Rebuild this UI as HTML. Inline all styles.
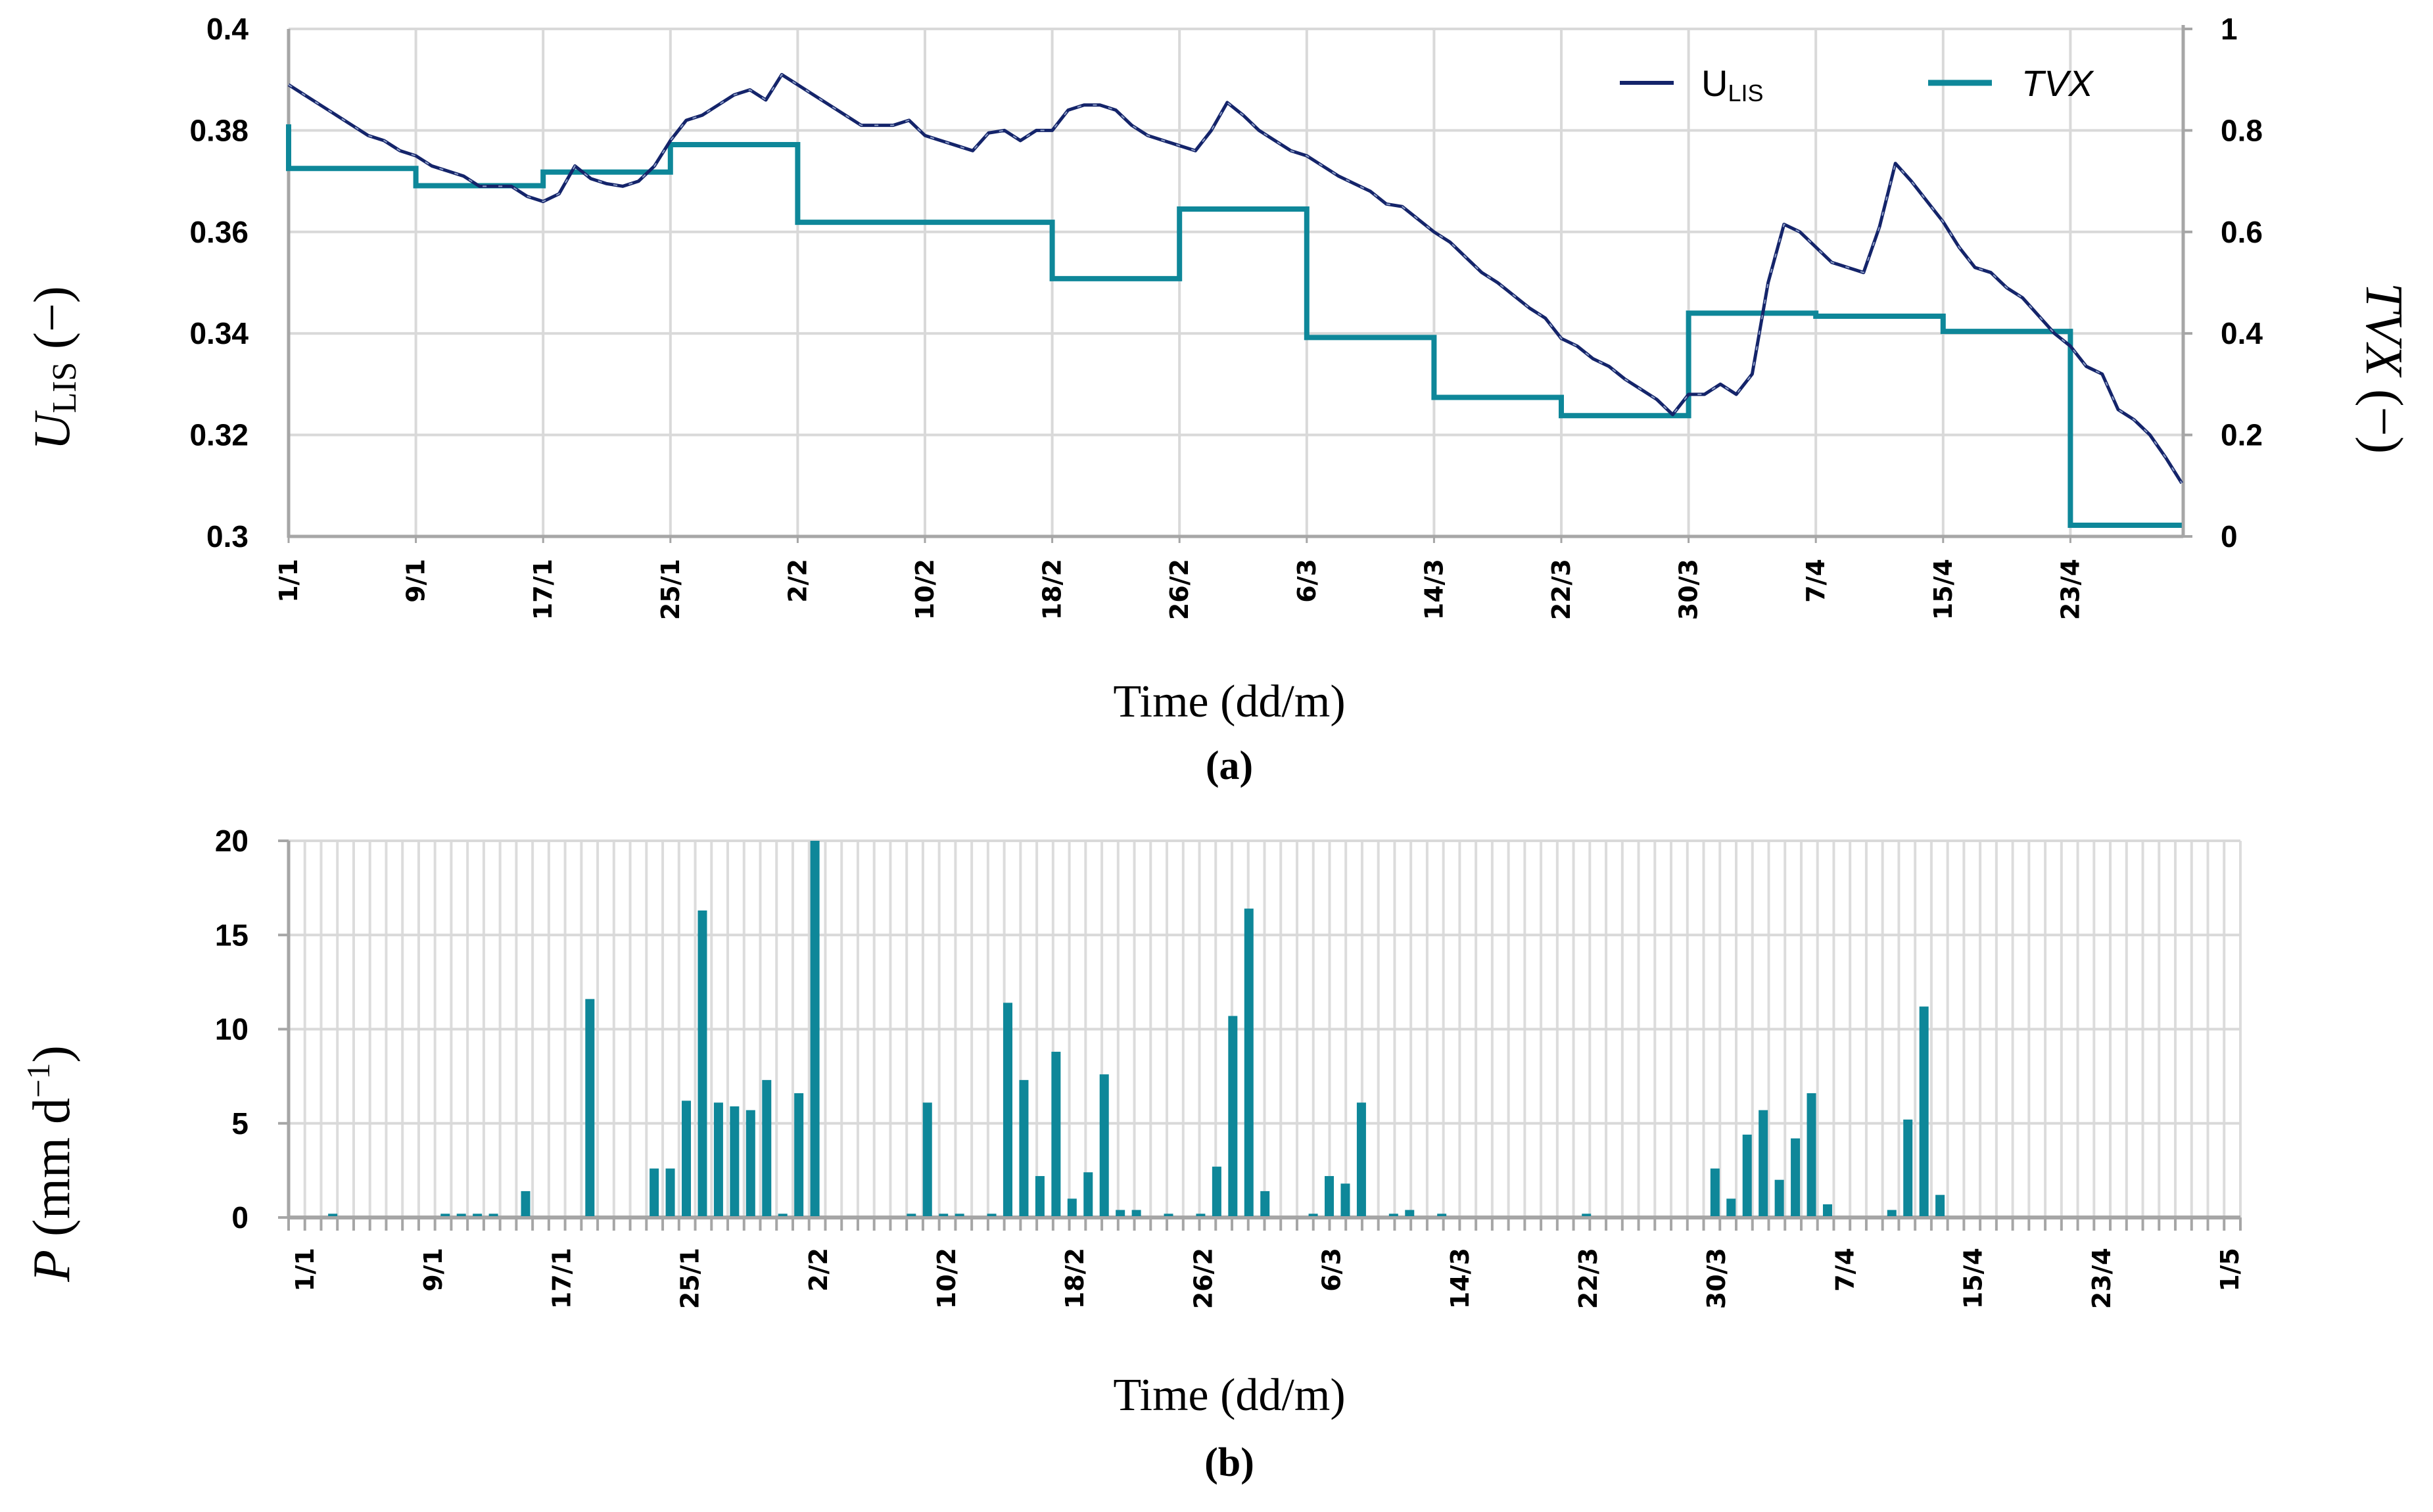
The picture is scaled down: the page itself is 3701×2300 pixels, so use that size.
<!DOCTYPE html>
<html><head><meta charset="utf-8">
<style>
html,body{margin:0;padding:0;background:#fff;}
svg{display:block;}
.yl{font-family:"Liberation Sans Narrow","Liberation Sans",sans-serif;font-weight:bold;font-size:46px;fill:#000;}
.xl{font-family:"DejaVu Sans",sans-serif;font-weight:bold;font-size:38px;fill:#000;}
.ser{font-family:"Liberation Serif",serif;fill:#000;}
</style></head>
<body>
<svg id="chart" width="3701" height="2300" viewBox="0 0 3701 2300" xmlns="http://www.w3.org/2000/svg">
<g id="topg"></g>
<g id="botg"></g>
<text class="ser" x="1870" y="1090" font-size="70" text-anchor="middle">Time (dd/m)</text>
<text class="ser" x="1870" y="1185" font-size="62" font-weight="bold" text-anchor="middle">(a)</text>
<text class="ser" x="1870" y="2145" font-size="70" text-anchor="middle">Time (dd/m)</text>
<text class="ser" x="1870" y="2245" font-size="62" font-weight="bold" text-anchor="middle">(b)</text>
<text class="ser" transform="translate(105,560) rotate(-90)" font-size="78" text-anchor="middle"><tspan font-style="italic">U</tspan><tspan font-size="52" dy="10">LIS</tspan><tspan dy="-10"> (−)</tspan></text>
<text class="ser" transform="translate(3600,560) rotate(90)" font-size="80" text-anchor="middle"><tspan font-style="italic">TVX</tspan> (−)</text>
<text class="ser" transform="translate(105,1770) rotate(-90)" font-size="80" text-anchor="middle"><tspan font-style="italic">P</tspan> (mm d<tspan font-size="50" dy="-30">−1</tspan><tspan dy="30">)</tspan></text>
<g>
<line x1="2464" y1="126" x2="2546" y2="126" stroke="#14246a" stroke-width="6"/>
<text x="2588" y="146" font-family="Liberation Sans Narrow, Liberation Sans, sans-serif" font-size="56" fill="#000">U<tspan font-size="36" dy="8">LIS</tspan></text>
<line x1="2933" y1="126" x2="3030" y2="126" stroke="#0e8799" stroke-width="9"/>
<text x="3075" y="146" font-family="Liberation Sans Narrow, Liberation Sans, sans-serif" font-size="56" font-style="italic" fill="#000">TVX</text>
</g>
</svg>
<script>
// ---- Chart (a) data ----
const uDays = Array.from({length:120},(_,i)=>i);
const uValues = [0.389,0.387,0.385,0.383,0.381,0.379,0.378,0.376,0.375,0.373,
0.372,0.371,0.369,0.369,0.369,0.367,0.366,0.3675,0.373,0.3705,
0.3695,0.369,0.370,0.373,0.378,0.382,0.383,0.385,0.387,0.388,
0.386,0.391,0.389,0.387,0.385,0.383,0.381,0.381,0.381,0.382,
0.379,0.378,0.377,0.376,0.3795,0.380,0.378,0.380,0.380,0.384,
0.385,0.385,0.384,0.381,0.379,0.378,0.377,0.376,0.380,0.3855,
0.383,0.380,0.378,0.376,0.375,0.373,0.371,0.3695,0.368,0.3655,
0.365,0.3625,0.360,0.358,0.355,0.352,0.350,0.3475,0.345,0.343,
0.339,0.3375,0.335,0.3335,0.331,0.329,0.327,0.324,0.328,0.328,
0.330,0.328,0.332,0.350,0.3615,0.360,0.357,0.354,0.353,0.352,
0.361,0.3735,0.370,0.366,0.362,0.357,0.353,0.352,0.349,0.347,
0.3435,0.340,0.3375,0.3335,0.332,0.325,0.323,0.320,0.3155,0.3105];
const tvxStart = [0,8,16,24,32,48,56,64,72,80,88,96,104,112];
const tvxValues = [0.725,0.691,0.718,0.772,0.619,0.508,0.645,0.392,0.274,0.238,0.440,0.434,0.404,0.022];
const tvxInitial = 0.812;
const tvxEnd = 119;
const leftTicks = ["0.3","0.32","0.34","0.36","0.38","0.4"];
const rightTicks = ["0","0.2","0.4","0.6","0.8","1"];
const topDateLabels = ["1/1","9/1","17/1","25/1","2/2","10/2","18/2","26/2","6/3","14/3","22/3","30/3","7/4","15/4","23/4"];
// ---- Chart (b) data ----
const pDays = [2,9,10,11,12,14,18,22,23,24,25,26,27,28,29,30,31,32,38,39,40,41,43,44,45,46,47,48,49,50,51,52,54,56,57,58,59,60,63,64,65,66,68,69,71,80,88,89,90,91,92,93,94,95,99,100,101,102];
const pValues = [0.2,0.2,0.2,0.2,0.2,1.4,11.6,2.6,2.6,6.2,16.3,6.1,5.9,5.7,7.3,0.2,6.6,20,0.2,6.1,0.2,0.2,0.2,11.4,7.3,2.2,8.8,1.0,2.4,7.6,0.4,0.4,0.2,0.2,2.7,10.7,16.4,1.4,0.2,2.2,1.8,6.1,0.2,0.4,0.2,0.2,2.6,1.0,4.4,5.7,2.0,4.2,6.6,0.7,0.4,5.2,11.2,1.2];
const pTicks = ["0","5","10","15","20"];
const botDateLabels = ["1/1","9/1","17/1","25/1","2/2","10/2","18/2","26/2","6/3","14/3","22/3","30/3","7/4","15/4","23/4","1/5"];

const NS="http://www.w3.org/2000/svg";
function mk(p,tag,a){const e=document.createElementNS(NS,tag);for(const k in a)e.setAttribute(k,a[k]);p.appendChild(e);return e;}

// ---- Axes (a) ----
const A={x0:439,x1:3321,y0:816,y1:44,pd:24.2};
const ax=d=>A.x0+d*A.pd;
const ayL=v=>A.y0-(v-0.3)/0.1*(A.y0-A.y1);
const ayR=v=>A.y0-v*(A.y0-A.y1);
const topG=document.getElementById('topg');
const gA=mk(topG,'g',{});


leftTicks.forEach((t,i)=>{const y=ayL(0.3+i*0.02);
  mk(gA,'line',{x1:A.x0,x2:A.x1,y1:y,y2:y,stroke:'#d9d9d9','stroke-width':4});
  const tx=mk(topG,'text',{x:378,y:y+16,class:'yl','text-anchor':'end'});tx.textContent=t;
  
  
});
rightTicks.forEach((t,i)=>{const y=ayR(i*0.2);
  mk(topG,'line',{x1:A.x1,x2:A.x1+14,y1:y,y2:y,stroke:'#a6a6a6','stroke-width':4});
  const tx=mk(topG,'text',{x:3378,y:y+16,class:'yl'});tx.textContent=t;
  
  
});
topDateLabels.forEach((t,i)=>{const d=i*8;const x=ax(d);
  if(i>0)mk(gA,'line',{x1:x,x2:x,y1:A.y1,y2:A.y0,stroke:'#d9d9d9','stroke-width':4});
  mk(topG,'line',{x1:x,x2:x,y1:A.y0,y2:A.y0+10,stroke:'#a6a6a6','stroke-width':3});
  const tx=mk(topG,'text',{class:'xl','text-anchor':'end',transform:`translate(${x+13},850) rotate(-90)`});tx.textContent=t;
  
  
});
mk(topG,'line',{x1:A.x0,x2:A.x0,y1:A.y1,y2:A.y0+2,stroke:'#a6a6a6','stroke-width':5});
mk(topG,'line',{x1:A.x1,x2:A.x1,y1:A.y1-6,y2:A.y0+2,stroke:'#a6a6a6','stroke-width':5});
mk(topG,'line',{x1:A.x0,x2:A.x1,y1:A.y0,y2:A.y0,stroke:'#a6a6a6','stroke-width':5});
// TVX step line
let pts=[[ax(0),ayR(tvxInitial)]];
tvxStart.forEach((d,i)=>{const e=i<tvxStart.length-1?tvxStart[i+1]:tvxEnd;pts.push([ax(d),ayR(tvxValues[i])]);pts.push([ax(e),ayR(tvxValues[i])]);});
const tvx=mk(topG,'polyline',{points:pts.map(p=>p.join(',')).join(' '),fill:'none',stroke:'#0e8799','stroke-width':8,'stroke-linejoin':'miter'});


// U_LIS line
const upts=uDays.map((d,i)=>ax(d)+','+ayL(uValues[i])).join(' ');
const ul=mk(topG,'polyline',{points:upts,fill:'none',stroke:'#14246a','stroke-width':5,'stroke-linejoin':'round'});


mk(topG,'polyline',{points:upts,fill:'none',stroke:'#8fa0c8','stroke-width':2,'stroke-dasharray':'6 18'});

// ---- Axes (b) ----
const B={x0:439,x1:3408,y0:1852,y1:1279,n:120};
const bw=(B.x1-B.x0)/B.n;
const bxBar=d=>445+(d+0.5)*24.45;
const by=v=>B.y0-v/20*(B.y0-B.y1);
const botG=document.getElementById('botg');
const gB=mk(botG,'g',{});


for(let k=1;k<=B.n;k++){const x=B.x0+k*bw;
  mk(gB,'line',{x1:x,x2:x,y1:B.y1,y2:B.y0,stroke:'#dcdcdc','stroke-width':4});
  mk(botG,'line',{x1:x,x2:x,y1:B.y0,y2:B.y0+20,stroke:'#a6a6a6','stroke-width':4});
}
mk(botG,'line',{x1:B.x0,x2:B.x0,y1:B.y0,y2:B.y0+20,stroke:'#a6a6a6','stroke-width':4});
pTicks.forEach((t,i)=>{const y=by(i*5);
  if(i>0)mk(gB,'line',{x1:B.x0,x2:B.x1,y1:y,y2:y,stroke:'#d9d9d9','stroke-width':4});
  mk(botG,'line',{x1:B.x0-16,x2:B.x0,y1:y,y2:y,stroke:'#a6a6a6','stroke-width':4});
  const tx=mk(botG,'text',{x:378,y:y+16,class:'yl','text-anchor':'end'});tx.textContent=t;
  
  
});
mk(botG,'line',{x1:B.x0,x2:B.x0,y1:B.y1,y2:B.y0,stroke:'#a6a6a6','stroke-width':5});
mk(botG,'line',{x1:B.x0,x2:B.x1,y1:B.y0,y2:B.y0,stroke:'#a6a6a6','stroke-width':6});
botDateLabels.forEach((t,i)=>{const x=464+i*8*24.4;
  const tx=mk(botG,'text',{class:'xl','text-anchor':'end',transform:`translate(${x+13},1898) rotate(-90)`});tx.textContent=t;
  
  
});
pDays.forEach((d,i)=>{const y=by(pValues[i]);
  const r=mk(botG,'rect',{x:bxBar(d)-7,y:y,width:14,height:B.y0-y-2,fill:'#0e8799'});
  
  
});
</script>
</body></html>
